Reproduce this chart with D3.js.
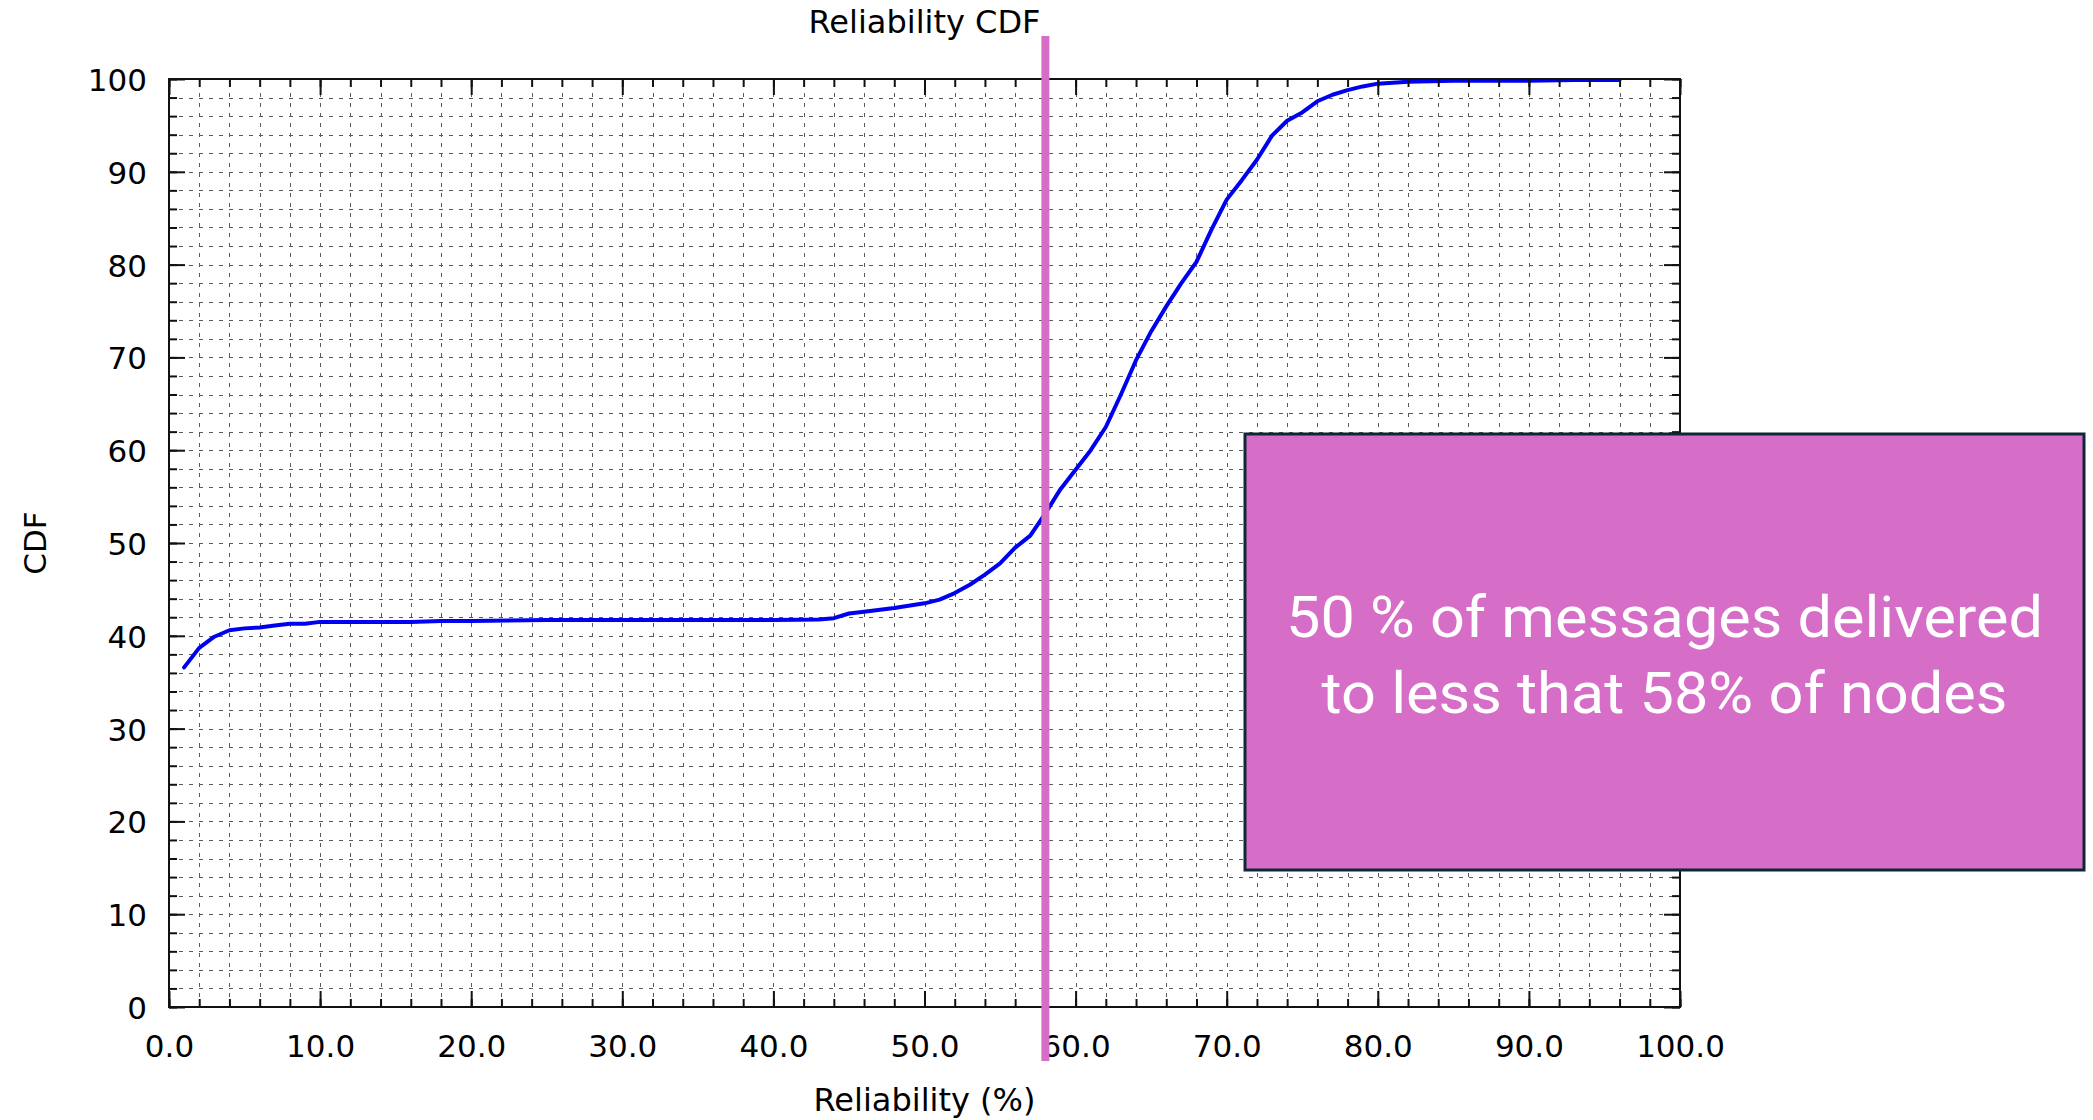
<!DOCTYPE html>
<html>
<head>
<meta charset="utf-8">
<script src="https://cdn.jsdelivr.net/npm/d3@7"></script>
<style>
  html, body { margin: 0; padding: 0; background: #fff; }
  svg { display: block; }
</style>
</head>
<body>
<svg id="chart" width="2093" height="1120"></svg>
<script>
// Reliability (%) sampled along the CDF
const reliability = [1, 2, 3, 4, 5, 6, 7, 8, 9, 10, 12, 16, 18, 20, 25, 30, 35, 40, 43, 44, 45, 46, 48, 50,
  51, 52, 53, 54, 55, 56, 57, 58, 59, 60, 61, 62, 63, 64, 65, 66, 67, 68, 69, 70, 71, 72, 73, 74, 75, 76,
  77, 78, 79, 80, 82, 85, 90, 93, 96];
// Cumulative share of messages (%) at each reliability level
const cdf = [36.6, 38.7, 39.9, 40.6, 40.8, 40.9, 41.1, 41.3, 41.3, 41.5, 41.5, 41.5, 41.6, 41.6, 41.7, 41.7, 41.7, 41.7, 41.75, 41.9, 42.4, 42.6, 43.0, 43.5,
  43.9, 44.6, 45.5, 46.6, 47.8, 49.5, 50.8, 53.2, 55.8, 57.9, 60.0, 62.5, 66.0, 69.7, 72.8, 75.5, 78.0, 80.3, 83.8, 87.0, 89.1, 91.3, 93.9, 95.5, 96.4, 97.6,
  98.3, 98.8, 99.2, 99.5, 99.7, 99.8, 99.8, 99.9, 99.9];
// Axis ticks
const xMajorTicks = [0, 10, 20, 30, 40, 50, 60, 70, 80, 90, 100];
const yMajorTicks = [0, 10, 20, 30, 40, 50, 60, 70, 80, 90, 100];
const minorStep = 2;
// Highlighted reliability threshold and its note
const thresholdReliability = 58;
const noteLines = ["50 % of messages delivered", "to less that 58% of nodes"];

const svg = d3.select("#chart");
const plotLeft = 169, plotRight = 1680, plotTop = 79, plotBottom = 1007;
const x = d3.scaleLinear().domain([0, 100]).range([plotLeft, plotRight]);
const y = d3.scaleLinear().domain([0, 100]).range([plotBottom, plotTop]);
const font = "'DejaVu Sans', sans-serif";

const minorVals = d3.range(minorStep, 100, minorStep);

// dashed grid on every minor step
const grid = svg.append("g").attr("stroke", "#5a5a5a").attr("stroke-width", 1)
  .attr("stroke-dasharray", "4,6");
grid.selectAll("line.gx").data(minorVals).join("line").attr("class", "gx")
  .attr("x1", d => Math.round(x(d)) + 0.5).attr("x2", d => Math.round(x(d)) + 0.5)
  .attr("y1", plotBottom).attr("y2", plotTop);
grid.selectAll("line.gy").data(minorVals).join("line").attr("class", "gy")
  .attr("y1", d => Math.round(y(d)) + 0.5).attr("y2", d => Math.round(y(d)) + 0.5)
  .attr("x1", plotLeft).attr("x2", plotRight);

// CDF curve
const pts = reliability.map((r, i) => [r, cdf[i]]);
svg.append("path").datum(pts)
  .attr("fill", "none").attr("stroke", "#0000f0").attr("stroke-width", 4)
  .attr("stroke-linejoin", "round").attr("stroke-linecap", "round")
  .attr("d", d3.line().x(d => x(d[0])).y(d => y(d[1])));

// axes with inward ticks on all four sides
const minorTicks = d3.range(0, 101, minorStep);
const bottomAxis = d3.axisBottom(x).tickValues(minorTicks).tickSize(-8).tickFormat("");
const bottomMajor = d3.axisBottom(x).tickValues(xMajorTicks).tickSize(-16).tickFormat(d3.format(".1f"));
const topAxis = d3.axisTop(x).tickValues(minorTicks).tickSize(-8).tickFormat("");
const topMajor = d3.axisTop(x).tickValues(xMajorTicks).tickSize(-16).tickFormat("");
const leftAxis = d3.axisLeft(y).tickValues(minorTicks).tickSize(-8).tickFormat("");
const leftMajor = d3.axisLeft(y).tickValues(yMajorTicks).tickSize(-16).tickFormat(d3.format("d"));
const rightAxis = d3.axisRight(y).tickValues(minorTicks).tickSize(-8).tickFormat("");
const rightMajor = d3.axisRight(y).tickValues(yMajorTicks).tickSize(-16).tickFormat("");

function place(axis, tx, ty) {
  const g = svg.append("g").attr("transform", `translate(${tx},${ty})`).call(axis);
  g.select(".domain").remove();
  g.selectAll(".tick line").attr("stroke", "#111").attr("stroke-width", 2);
  g.selectAll(".tick text").attr("font-family", font).attr("font-size", 31).attr("fill", "#000");
  return g;
}
place(bottomAxis, 0, plotBottom);
const bm = place(bottomMajor, 0, plotBottom);
bm.selectAll(".tick text").attr("dy", 0).attr("y", 50);
place(topAxis, 0, plotTop);
place(topMajor, 0, plotTop);
place(leftAxis, plotLeft, 0);
const lm = place(leftMajor, plotLeft, 0);
lm.selectAll(".tick text").attr("dy", 0).attr("y", 11.5).attr("x", -22);
place(rightAxis, plotRight, 0);
place(rightMajor, plotRight, 0);

// frame
svg.append("rect").attr("x", plotLeft).attr("y", plotTop)
  .attr("width", plotRight - plotLeft).attr("height", plotBottom - plotTop)
  .attr("fill", "none").attr("stroke", "#111").attr("stroke-width", 2);

// titles
svg.append("text").attr("x", (plotLeft + plotRight) / 2).attr("y", 33).attr("text-anchor", "middle")
  .attr("font-family", font).attr("font-size", 32).text("Reliability CDF");
svg.append("text").attr("x", (plotLeft + plotRight) / 2).attr("y", 1111).attr("text-anchor", "middle")
  .attr("font-family", font).attr("font-size", 32).text("Reliability (%)");
svg.append("text").attr("transform", `translate(46,${(plotTop + plotBottom) / 2}) rotate(-90)`)
  .attr("text-anchor", "middle").attr("font-family", font).attr("font-size", 31).text("CDF");

// threshold marker
svg.append("line").attr("x1", x(thresholdReliability)).attr("x2", x(thresholdReliability))
  .attr("y1", 36).attr("y2", 1061).attr("stroke", "#d66ec8").attr("stroke-width", 8);

// note box
const box = { x: 1245, y: 434, w: 839, h: 436 };
svg.append("rect").attr("x", box.x).attr("y", box.y).attr("width", box.w).attr("height", box.h)
  .attr("fill", "#d66ec8").attr("stroke", "#0f2636").attr("stroke-width", 3);
const noteWidths = [757, 686];
const noteBaselines = [637, 713];
svg.selectAll("text.note").data(noteLines).join("text")
  .attr("class", "note")
  .attr("x", box.x + box.w / 2).attr("y", (d, i) => noteBaselines[i])
  .attr("text-anchor", "middle").attr("fill", "#fff")
  .attr("font-family", "Roboto, 'Open Sans', sans-serif").attr("font-size", 57)
  .attr("textLength", (d, i) => noteWidths[i]).attr("lengthAdjust", "spacingAndGlyphs")
  .text(d => d);
</script>
</body>
</html>
